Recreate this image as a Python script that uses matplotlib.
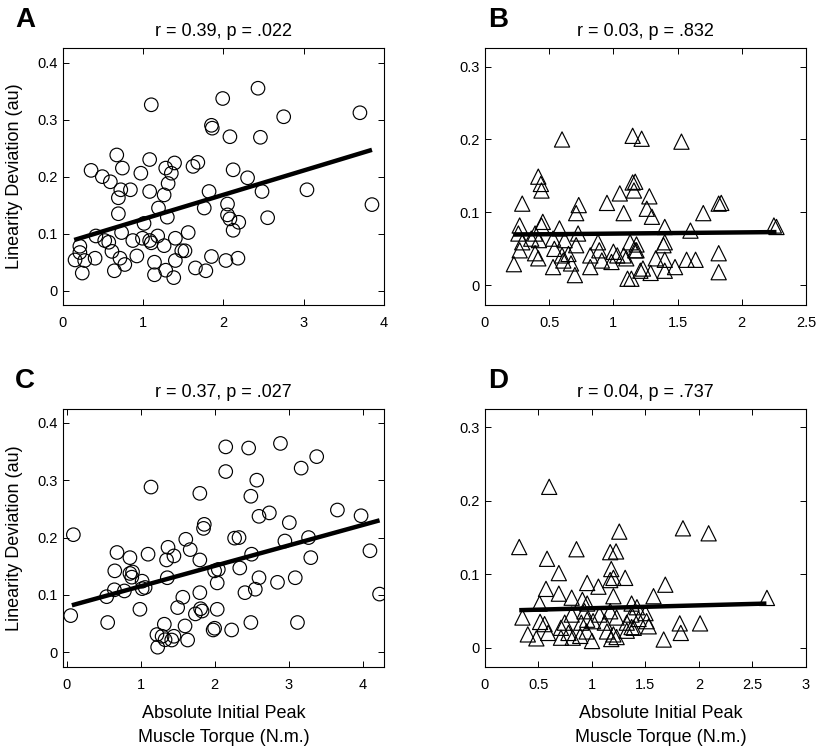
import matplotlib
matplotlib.use("Agg")
import matplotlib.pyplot as plt

plt.rcParams['font.family'] = ['Liberation Sans', 'DejaVu Sans']

# ---------------- data ----------------
titles = ["r = 0.39, p = .022", "r = 0.03, p = .832", "r = 0.37, p = .027", "r = 0.04, p = .737"]
panel_letters = ["A", "B", "C", "D"]
y_label = "Linearity Deviation (au)"
x_label = "Absolute Initial Peak\nMuscle Torque (N.m.)"

# Panel A (circles)
a_x = [1.10, 1.99, 1.85, 1.86, 2.08, 0.67, 1.08, 0.35, 0.74, 0.49, 0.59, 0.97, 1.28, 1.39, 1.35, 1.62,
       1.68, 2.12, 1.31, 0.72, 0.84, 0.69, 1.08, 1.26, 1.82, 1.76, 1.19, 1.30, 0.69, 2.05, 2.05, 2.08,
       2.12, 1.01, 0.73, 0.41, 0.52, 0.57, 0.87, 0.99, 1.08, 1.10, 1.18, 1.26, 1.40, 1.56, 1.48, 1.52,
       0.21, 0.21, 0.15, 0.27, 0.40, 0.24, 0.61, 0.71, 0.77, 0.64, 0.92, 1.14, 1.14, 1.28, 1.40, 1.38,
       1.65, 1.78, 1.85, 2.03, 2.18, 2.43, 2.75, 3.70, 2.46, 2.30, 2.48, 3.04, 3.85, 2.19, 2.55]
a_y = [0.326, 0.337, 0.290, 0.285, 0.270, 0.238, 0.230, 0.211, 0.215, 0.200, 0.191, 0.206, 0.215, 0.224,
       0.206, 0.218, 0.225, 0.212, 0.188, 0.177, 0.177, 0.163, 0.174, 0.168, 0.174, 0.145, 0.145, 0.129,
       0.135, 0.152, 0.133, 0.126, 0.106, 0.118, 0.102, 0.096, 0.088, 0.085, 0.088, 0.092, 0.088, 0.084,
       0.096, 0.079, 0.092, 0.102, 0.070, 0.070, 0.078, 0.067, 0.054, 0.053, 0.057, 0.031, 0.069, 0.057,
       0.046, 0.035, 0.061, 0.050, 0.028, 0.036, 0.053, 0.023, 0.040, 0.035, 0.060, 0.053, 0.057, 0.355,
       0.305, 0.312, 0.269, 0.198, 0.174, 0.177, 0.151, 0.120, 0.128]
a_fit_x = [0.14, 3.85]
a_fit_y = [0.089, 0.247]

# Panel B (triangles)
b_x = [0.60, 1.15, 1.22, 1.53, 0.415, 0.435, 0.44, 0.29, 0.73, 0.71, 0.95, 1.05, 1.08, 1.15, 1.16, 1.17,
       1.28, 1.26, 1.30, 1.70, 1.82, 1.84, 2.25, 2.27, 1.40, 1.60, 1.40, 1.39, 1.18, 1.18, 1.33, 1.40,
       1.48, 1.57, 1.64, 1.82, 1.82, 1.23, 1.29, 1.40, 1.14, 0.27, 0.26, 0.29, 0.27, 0.225, 0.45, 0.44,
       0.39, 0.36, 0.42, 0.39, 0.415, 0.53, 0.53, 0.54, 0.58, 0.62, 0.60, 0.61, 0.65, 0.67, 0.70, 0.725,
       0.71, 0.82, 0.82, 0.88, 0.89, 0.91, 1.00, 1.03, 0.985, 1.08, 1.10, 1.11, 1.13, 1.17, 1.21]
b_y = [0.200, 0.205, 0.201, 0.197, 0.149, 0.139, 0.130, 0.112, 0.110, 0.099, 0.113, 0.126, 0.099, 0.141,
       0.130, 0.142, 0.122, 0.105, 0.094, 0.099, 0.112, 0.113, 0.082, 0.080, 0.080, 0.075, 0.059, 0.055,
       0.048, 0.056, 0.037, 0.035, 0.025, 0.035, 0.035, 0.044, 0.018, 0.023, 0.017, 0.020, 0.009, 0.082,
       0.071, 0.059, 0.048, 0.029, 0.087, 0.082, 0.071, 0.064, 0.062, 0.044, 0.037, 0.025, 0.064, 0.050,
       0.078, 0.062, 0.041, 0.034, 0.043, 0.030, 0.014, 0.071, 0.055, 0.041, 0.025, 0.059, 0.048, 0.034,
       0.046, 0.041, 0.032, 0.041, 0.037, 0.009, 0.059, 0.048, 0.020]
b_fit_x = [0.22, 2.27]
b_fit_y = [0.0696, 0.073]

# Panel C (circles)
c_x = [2.15, 2.15, 1.14, 1.80, 1.86, 1.85, 0.09, 1.61, 1.67, 0.68, 0.855, 1.10, 1.37, 1.35, 1.45, 1.80,
       0.65, 0.855, 0.89, 0.88, 1.02, 1.02, 1.06, 1.36, 2.05, 2.00, 2.035, 0.645, 0.78, 0.54, 1.80, 1.57,
       1.50, 0.99, 1.81, 1.83, 1.74, 2.035, 0.054, 0.554, 1.32, 1.60, 1.22, 1.29, 1.33, 1.45, 1.42, 1.23,
       1.635, 1.98, 2.00, 2.23, 2.27, 2.46, 2.89, 3.38, 3.17, 2.57, 2.49, 2.60, 2.74, 3.01, 3.66, 3.98,
       2.33, 2.95, 3.27, 2.50, 3.30, 4.10, 2.34, 2.60, 2.85, 3.09, 2.41, 2.55, 4.23, 2.49, 3.12]
c_y = [0.358, 0.315, 0.288, 0.277, 0.223, 0.216, 0.205, 0.197, 0.179, 0.174, 0.165, 0.171, 0.183, 0.161,
       0.168, 0.161, 0.142, 0.1375, 0.140, 0.131, 0.124, 0.111, 0.113, 0.130, 0.1445, 0.142, 0.121, 0.109,
       0.107, 0.097, 0.104, 0.096, 0.078, 0.075, 0.076, 0.072, 0.067, 0.075, 0.064, 0.052, 0.049, 0.046,
       0.031, 0.028, 0.022, 0.028, 0.0215, 0.009, 0.0215, 0.039, 0.042, 0.039, 0.199, 0.356, 0.364, 0.341,
       0.321, 0.300, 0.272, 0.237, 0.243, 0.226, 0.248, 0.238, 0.200, 0.194, 0.200, 0.171, 0.165, 0.177,
       0.147, 0.130, 0.122, 0.130, 0.104, 0.110, 0.1015, 0.052, 0.052]
c_fit_x = [0.07, 4.23]
c_fit_y = [0.082, 0.230]

# Panel D (triangles)
d_x = [0.60, 1.255, 0.32, 0.855, 1.17, 1.225, 0.58, 0.69, 1.18, 1.31, 1.20, 1.17, 0.955, 1.06, 0.57, 0.69,
       1.20, 0.81, 0.51, 0.91, 0.955, 1.37, 0.35, 0.515, 0.557, 0.81, 0.93, 0.955, 1.01, 1.07, 1.17, 1.23,
       1.325, 1.37, 0.40, 0.48, 0.59, 0.71, 0.71, 0.78, 0.82, 0.89, 1.00, 0.95, 1.14, 1.20, 1.23, 1.18,
       1.325, 1.37, 0.745, 0.90, 1.12, 1.435, 1.85, 2.09, 1.685, 1.575, 2.635, 1.50, 1.51, 1.53, 1.39,
       1.82, 1.83, 2.01, 1.67, 1.42]
d_y = [0.219, 0.158, 0.137, 0.134, 0.130, 0.131, 0.121, 0.1015, 0.107, 0.095, 0.095, 0.092, 0.088, 0.083,
       0.080, 0.0735, 0.070, 0.068, 0.060, 0.065, 0.060, 0.060, 0.041, 0.035, 0.032, 0.045, 0.0495, 0.038,
       0.036, 0.045, 0.0495, 0.041, 0.034, 0.045, 0.018, 0.0126, 0.020, 0.027, 0.0135, 0.020, 0.0135,
       0.016, 0.009, 0.022, 0.022, 0.018, 0.0144, 0.0117, 0.023, 0.028, 0.034, 0.034, 0.034, 0.039, 0.1625,
       0.1557, 0.0857, 0.070, 0.0677, 0.047, 0.036, 0.029, 0.027, 0.033, 0.020, 0.033, 0.011, 0.055]
d_fit_x = [0.32, 2.63]
d_fit_y = [0.051, 0.060]

xs = [a_x, b_x, c_x, d_x]
ys = [a_y, b_y, c_y, d_y]
fit_xs = [a_fit_x, b_fit_x, c_fit_x, d_fit_x]
fit_ys = [a_fit_y, b_fit_y, c_fit_y, d_fit_y]
markers = ["o", "^", "o", "^"]

xlims = [(0, 4), (0, 2.5), (-0.05, 4.29), (0, 3)]
ylims = [(-0.025, 0.425), (-0.027, 0.325), (-0.025, 0.424), (-0.026, 0.325)]
xticks = [[0, 1, 2, 3, 4], [0, 0.5, 1, 1.5, 2, 2.5], [0, 1, 2, 3, 4], [0, 0.5, 1, 1.5, 2, 2.5, 3]]
yticks = [[0, 0.1, 0.2, 0.3, 0.4], [0, 0.1, 0.2, 0.3], [0, 0.1, 0.2, 0.3, 0.4], [0, 0.1, 0.2, 0.3]]

# ---------------- layout ----------------
W, H = 820, 755
fig = plt.figure(figsize=(W / 100, H / 100), dpi=100)
rects = [
    [63 / W, 1 - 305 / H, 321 / W, 256.7 / H],
    [485 / W, 1 - 305 / H, 321 / W, 256.7 / H],
    [63 / W, 1 - 666.7 / H, 321 / W, 257.7 / H],
    [485 / W, 1 - 666.7 / H, 321 / W, 257.7 / H],
]
letter_pos = [(25, 20), (498, 20), (25, 381), (498, 381)]

def fmt(v):
    s = ("%g" % v)
    return s

for i in range(4):
    ax = fig.add_axes(rects[i])
    ax.scatter(xs[i], ys[i], s=95 if markers[i] == "o" else 120, marker=markers[i],
               facecolors="none", edgecolors="black", linewidths=0.85, zorder=2)
    ax.plot(fit_xs[i], fit_ys[i], color="black", linewidth=3.2, solid_capstyle="butt", zorder=3)
    ax.set_xlim(*xlims[i])
    ax.set_ylim(*ylims[i])
    ax.set_xticks(xticks[i])
    ax.set_xticklabels([fmt(v) for v in xticks[i]])
    ax.set_yticks(yticks[i])
    ax.set_yticklabels([fmt(v) for v in yticks[i]])
    ax.tick_params(direction="in", top=True, right=True, length=4.5, width=0.7,
                   labelsize=10.5, colors="black")
    ax.tick_params(axis="x", pad=8)
    ax.tick_params(axis="y", pad=4)
    for sp in ax.spines.values():
        sp.set_linewidth(0.8)
    ax.set_title(titles[i], fontsize=13, pad=9)
    if i in (0, 2):
        ax.set_ylabel(y_label, fontsize=13)
        ax.yaxis.set_label_coords(-0.125, 0.5)
    if i in (2, 3):
        ax.set_xlabel(x_label, fontsize=13, linespacing=1.55)
        ax.xaxis.set_label_coords(0.5 if i == 2 else 0.548, -0.148)
    lx, ly = letter_pos[i]
    fig.text(lx / W, 1 - ly / H, panel_letters[i], fontsize=20, fontweight="bold",
             ha="center", va="center")

fig.savefig("out.png", dpi=100)
